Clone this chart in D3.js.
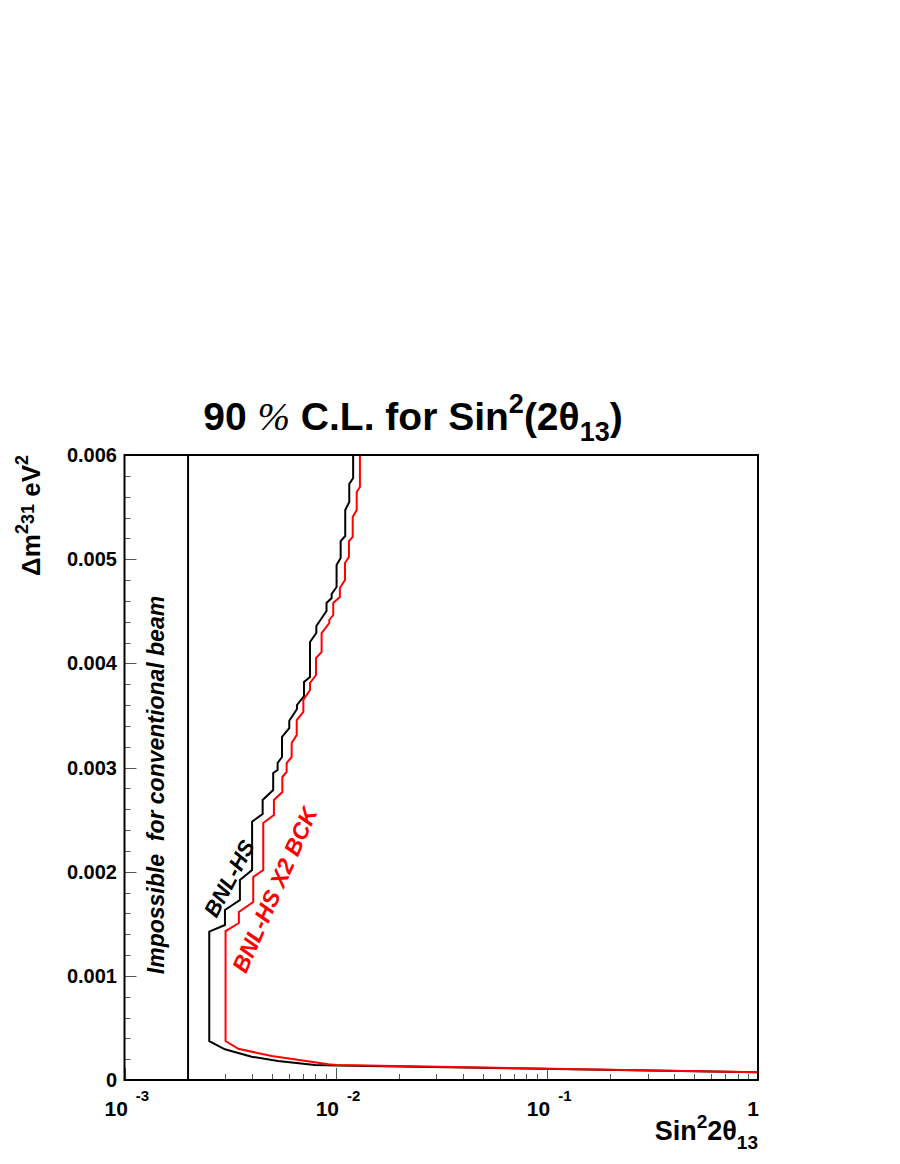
<!DOCTYPE html>
<html><head><meta charset="utf-8">
<script src="https://cdn.jsdelivr.net/npm/d3@7"></script>
<style>body{margin:0;background:#fff}svg{display:block}</style>
</head><body>
<script>
// ---- data ----
const xTickValues = [0.001, 0.01, 0.1, 1];
const xTickBases = ["10", "10", "10", "1"];
const xTickExps = ["-3", "-2", "-1", ""];
const yTickValues = [0, 0.001, 0.002, 0.003, 0.004, 0.005, 0.006];
const yTickLabels = ["0", "0.001", "0.002", "0.003", "0.004", "0.005", "0.006"];
const conventionalLimit = 0.002;

// BNL-HS (black) contour, sin^2 2theta13 and dm^2 (eV^2)
const bnlX = [0.0121,0.0121,0.0116,0.0116,0.0111,0.0111,0.01056,0.01056,0.0101,0.0101,0.00957,0.00957,0.00905,0.00905,0.0081,0.0081,0.00756,0.00756,0.00708,0.00708,0.00656,0.00656,0.00603,0.00603,0.00557,0.00557,0.00531,0.00531,0.00506,0.00506,0.00451,0.00451,0.00402,0.00402,0.00352,0.00352,0.00299,0.00299,0.00252,0.00252,0.00299,0.0040,0.00533,0.00798,0.0101,1.0];
const bnlY = [0.00600,0.005779,0.005721,0.005549,0.005472,0.005222,0.005174,0.005011,0.004944,0.004733,0.004666,0.004627,0.004579,0.004502,0.004358,0.004291,0.004205,0.003869,0.003821,0.003686,0.003600,0.003562,0.003449,0.003379,0.003293,0.003101,0.003043,0.002976,0.002947,0.002784,0.002688,0.002553,0.002480,0.002016,0.001920,0.001728,0.001632,0.001488,0.001424,0.000374,0.000295,0.000224,0.000182,0.000144,0.000139,0.000074];

// BNL-HS X2 BCK (red) contour
const bckX = [0.01303,0.01303,0.01258,0.01258,0.01204,0.01204,0.01156,0.01156,0.01107,0.01107,0.01047,0.01047,0.00974,0.00974,0.00933,0.00933,0.00858,0.00858,0.00807,0.00807,0.00756,0.00756,0.00703,0.00703,0.00654,0.00654,0.00619,0.00619,0.00586,0.00586,0.00559,0.00559,0.0051,0.0051,0.00454,0.00454,0.00407,0.00407,0.00348,0.00348,0.00301,0.00301,0.00346,0.00498,0.00923,0.0101,1.0];
const bckY = [0.00600,0.005693,0.005645,0.005472,0.005405,0.005213,0.005174,0.005021,0.004963,0.004800,0.004723,0.004637,0.004579,0.004464,0.004416,0.004387,0.004291,0.004109,0.004051,0.003888,0.003811,0.003744,0.003648,0.003533,0.003456,0.003312,0.003235,0.003101,0.003043,0.002957,0.002909,0.002765,0.002688,0.002544,0.002467,0.002016,0.001949,0.001709,0.001613,0.001507,0.001430,0.000374,0.000300,0.000230,0.000151,0.000144,0.000074];

// ---- layout ----
const W = 900, H = 1164;
const L = 124.5, R = 758, T = 455, B = 1080;
const SANS = "'Liberation Sans', Arial, Helvetica, sans-serif";
const SERIF = "'Liberation Serif', 'Times New Roman', serif";

const svg = d3.select("body").append("svg").attr("width", W).attr("height", H);

const x = d3.scaleLog().domain([1e-3, 1]).range([L, R]);
const y = d3.scaleLinear().domain([0, 0.006]).range([B, T]);

// ---- ticks ----
const ticksG = svg.append("g").attr("stroke", "#555").attr("stroke-width", 1);
const yMinor = d3.range(0, 31).map(i => i * 0.0002);
ticksG.selectAll(".ym").data(yMinor).join("line")
  .attr("x1", L).attr("x2", (d, i) => L + (i % 5 === 0 ? 12 : 6))
  .attr("y1", d => Math.round(y(d)) + 0.5).attr("y2", d => Math.round(y(d)) + 0.5);
const xMinor = [];
[0.001, 0.01, 0.1].forEach(dec => { for (let k = 1; k <= 9; k++) xMinor.push({ v: dec * k, major: k === 1 }); });
xMinor.push({ v: 1, major: true });
ticksG.selectAll(".xm").data(xMinor).join("line")
  .attr("x1", d => Math.round(x(d.v)) + 0.5).attr("x2", d => Math.round(x(d.v)) + 0.5)
  .attr("y1", B).attr("y2", d => B - (d.major ? 12 : 6));

// ---- curves ----
const line = d3.line().x(d => x(d[0])).y(d => y(d[1]));
svg.append("path").datum(d3.zip(bnlX, bnlY)).attr("d", line)
  .attr("fill", "none").attr("stroke", "#000").attr("stroke-width", 2);
svg.append("path").datum(d3.zip(bckX, bckY)).attr("d", line)
  .attr("fill", "none").attr("stroke", "#ff0000").attr("stroke-width", 2);

// conventional beam limit
svg.append("line").attr("x1", x(conventionalLimit)).attr("x2", x(conventionalLimit))
  .attr("y1", y(0)).attr("y2", y(0.006)).attr("stroke", "#000").attr("stroke-width", 2);

// frame
svg.append("rect").attr("x", L).attr("y", T).attr("width", R - L).attr("height", B - T)
  .attr("fill", "none").attr("stroke", "#000").attr("stroke-width", 2);

// ---- tick labels ----
svg.selectAll(".yl").data(yTickValues).join("text")
  .attr("x", 117).attr("y", d => y(d) + 7)
  .attr("text-anchor", "end").attr("font-family", SANS).attr("font-weight", "bold")
  .attr("font-size", 20).text((d, i) => yTickLabels[i]);

xTickValues.forEach((v, i) => {
  const t = svg.append("text").attr("font-family", SANS).attr("font-weight", "bold")
    .attr("font-size", 21).attr("y", 1116);
  if (xTickExps[i]) {
    t.attr("x", x(v) - 20);
    t.append("tspan").text(xTickBases[i]);
    t.append("tspan").attr("dx", 8).attr("dy", -15).attr("font-size", 15).text(xTickExps[i]);
  } else {
    t.attr("x", x(v) + 1).attr("text-anchor", "end").text(xTickBases[i]);
  }
});

// ---- axis titles ----
const xt = svg.append("text").attr("x", 758).attr("y", 1140).attr("text-anchor", "end")
  .attr("font-family", SANS).attr("font-weight", "bold").attr("font-size", 27);
xt.append("tspan").text("Sin");
xt.append("tspan").attr("dy", -12).attr("font-size", 19).text("2");
xt.append("tspan").attr("dy", 12).text("2θ");
xt.append("tspan").attr("dy", 9).attr("font-size", 19).text("13");

const yt = svg.append("text").attr("transform", "translate(40,455) rotate(-90)")
  .attr("text-anchor", "end").attr("font-family", SANS).attr("font-weight", "bold").attr("font-size", 26);
yt.append("tspan").text("Δm");
yt.append("tspan").attr("dy", -12).attr("font-size", 18).text("2");
yt.append("tspan").attr("dy", 6).attr("font-size", 18).text("31");
yt.append("tspan").attr("dy", 6).text(" eV");
yt.append("tspan").attr("dy", -12).attr("font-size", 18).text("2");

// ---- title ----
const tt = svg.append("text").attr("x", 413).attr("y", 430).attr("text-anchor", "middle")
  .attr("font-family", SANS).attr("font-weight", "bold").attr("font-size", 39);
tt.append("tspan").text("90 ");
tt.append("tspan").attr("font-family", SERIF).attr("font-weight", "normal").attr("font-style", "italic").text("%");
tt.append("tspan").text(" C.L. for Sin");
tt.append("tspan").attr("dy", -17).attr("font-size", 27).text("2");
tt.append("tspan").attr("dy", 17).text("(2θ");
tt.append("tspan").attr("dy", 11).attr("font-size", 27).text("13");
tt.append("tspan").attr("dy", -11).text(")");

// ---- annotations ----
svg.append("text").attr("transform", "translate(164,785) rotate(-90)")
  .attr("text-anchor", "middle").attr("font-family", SANS).attr("font-weight", "bold")
  .attr("font-style", "italic").attr("font-size", 23)
  .style("white-space", "pre").text("Impossible  for conventional beam");

svg.append("text").attr("transform", "translate(236,882) rotate(-62)")
  .attr("text-anchor", "middle").attr("font-family", SANS).attr("font-weight", "bold")
  .attr("font-style", "italic").attr("font-size", 22).text("BNL-HS");

svg.append("text").attr("transform", "translate(282,893) rotate(-66)")
  .attr("text-anchor", "middle").attr("font-family", SANS).attr("font-weight", "bold")
  .attr("font-style", "italic").attr("font-size", 23).attr("fill", "#ff0000").text("BNL-HS X2 BCK");
</script>
</body></html>
